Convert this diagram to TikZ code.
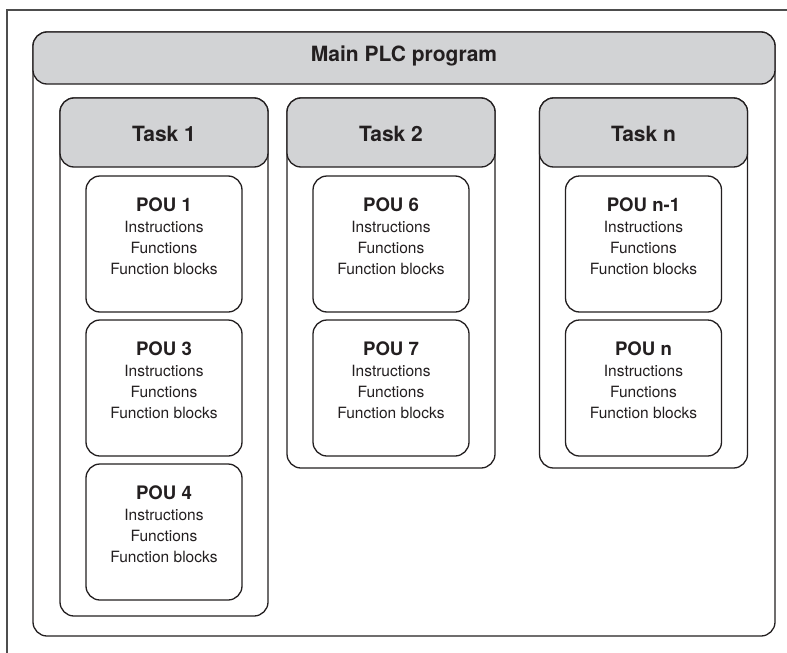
\documentclass[tikz,border=0pt]{standalone}
\usepackage{fontspec}
\setmainfont{TeX Gyre Heros}
\usetikzlibrary{calc}
\definecolor{ln}{HTML}{231F20}
\definecolor{hdrgray}{HTML}{D2D3D5}
\definecolor{frm}{HTML}{4D4D4D}
\begin{document}
\begin{tikzpicture}[x=1pt,y=-1pt,
  box/.style={draw=ln, line width=1.3pt, rounded corners=14pt, inner sep=0pt, fill=white},
  hdrbox/.style={box, fill=hdrgray},
  taskbox/.style={box, minimum width=208pt},
  taskhdr/.style={hdrbox, minimum width=208pt, minimum height=69pt},
  poubox/.style={box, minimum width=156pt, minimum height=136pt},
  ttl/.style={inner sep=0pt, text=ln, font=\fontsize{21}{25}\selectfont\bfseries},
  poutext/.style={inner sep=0pt, text=ln, align=center, anchor=north, font=\fontsize{15.5}{21}\selectfont}
]
\useasboundingbox (0,0) rectangle (787,653);
% outer frame (cropped)
\coordinate (fa) at (787,10);
\coordinate (fb) at (7,10);
\coordinate (fc) at (7,653);
\draw[frm, line width=1.5pt] (fa) -- (fb) -- (fc);

% main program
\node[box, minimum width=742pt, minimum height=604pt] (main) at (404,334) {};
\node[hdrbox, minimum width=742pt, minimum height=52pt] (mainh) at (404,58) {};
\node[ttl, anchor=base] (maint) at (404,61) {Main PLC program};

% tasks
\node[taskbox, minimum height=518pt] (t1) at (164,357) {};
\node[taskhdr] (t1h) at (164,132.5) {};
\node[ttl, anchor=base] (t1t) at (164,141) {Task 1};

\node[taskbox, minimum height=370pt] (t2) at (391,283) {};
\node[taskhdr] (t2h) at (391,132.5) {};
\node[ttl, anchor=base] (t2t) at (391,141) {Task 2};

\node[taskbox, minimum height=370pt] (tn) at (643.5,283) {};
\node[taskhdr] (tnh) at (643.5,132.5) {};
\node[ttl, anchor=base] (tnt) at (643.5,141) {Task n};

% POUs
\newcommand{\poucontent}[1]{{\fontsize{18.6}{21}\selectfont\bfseries #1}\\Instructions\\Functions\\Function blocks}

\node[poubox] (p1) at (164,244) {};
\node[poutext] (p1t) at ($(p1.north)+(0,22)$) {\poucontent{POU 1}};
\node[poubox] (p3) at (164,388) {};
\node[poutext] (p3t) at ($(p3.north)+(0,22)$) {\poucontent{POU 3}};
\node[poubox] (p4) at (164,532) {};
\node[poutext] (p4t) at ($(p4.north)+(0,22)$) {\poucontent{POU 4}};

\node[poubox] (p6) at (391,244) {};
\node[poutext] (p6t) at ($(p6.north)+(0,22)$) {\poucontent{POU 6}};
\node[poubox] (p7) at (391,388) {};
\node[poutext] (p7t) at ($(p7.north)+(0,22)$) {\poucontent{POU 7}};

\node[poubox] (pn1) at (643.5,244) {};
\node[poutext] (pn1t) at ($(pn1.north)+(0,22)$) {\poucontent{POU n-1}};
\node[poubox] (pn) at (643.5,388) {};
\node[poutext] (pnt) at ($(pn.north)+(0,22)$) {\poucontent{POU n}};
\end{tikzpicture}
\end{document}
